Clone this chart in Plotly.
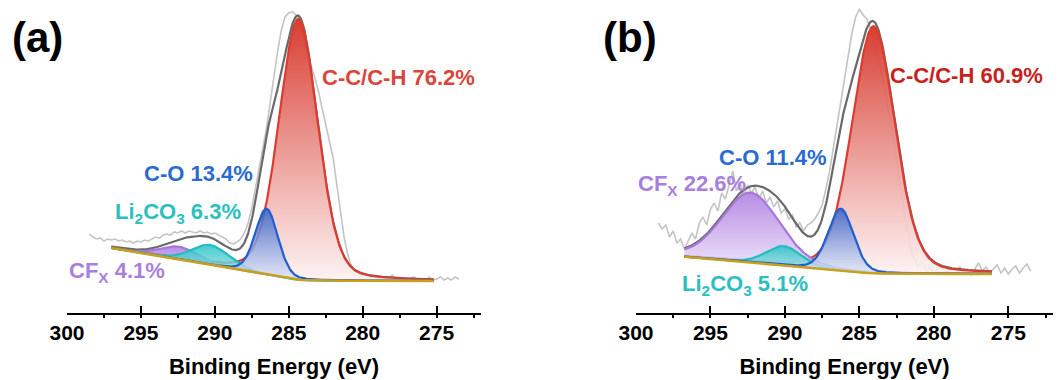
import numpy as np
import plotly.graph_objects as go

# ---------------- data ----------------
xticks = [300, 295, 290, 285, 280, 275]
raw_step = 0.25
raw_a_start = 298.5
raw_a = [79, 76, 74, 75, 72, 74, 73, 74, 72, 73, 71, 72, 70, 72, 71, 73, 72, 74, 76, 75,
         78, 79, 78, 81, 80, 82, 80, 82, 81, 80, 82, 80, 81, 79, 80, 78, 76, 74, 70, 69,
         71, 74, 80, 90, 105, 124, 146, 165, 186, 212, 238, 262, 283, 296, 300, 301, 298, 294, 278, 262,
         248, 236, 222, 205, 188, 172, 155, 128, 100, 75, 58, 46, 41, 39, 37, 36, 35, 37, 35, 34,
         33, 35, 38, 34, 33, 34, 33, 35, 36, 33, 34, 33, 36, 33, 34, 36, 33, 35, 33, 36, 34]
raw_b_start = 298.5
raw_b = [90, 84, 88, 76, 82, 70, 74, 64, 72, 80, 74, 90, 96, 88, 104, 110, 102, 120, 114, 128,
         142, 122, 130, 118, 128, 120, 126, 114, 122, 110, 116, 106, 112, 100, 104, 94, 98, 86, 90, 82,
         88, 90, 94, 100, 108, 124, 142, 165, 188, 210, 236, 260, 280, 296, 304, 298, 294, 284, 270, 255,
         240, 220, 200, 178, 152, 126, 102, 82, 60, 52, 46, 50, 42, 46, 40, 44, 48, 41, 45, 39,
         43, 46, 40, 44, 38, 44, 50, 42, 46, 40, 44, 48, 40, 45, 39, 44, 47, 40, 45, 49, 42]

peak_names = ["C-C/C-H", "C-O", "Li2CO3", "CFx"]
center_a = [284.35, 286.5, 290.3, 292.4]
height_a = [261, 66, 20, 13]
fwhm_a = [3.1, 1.8, 3.0, 3.0]
center_b = [284.05, 286.25, 290.1, 292.3]
height_b = [247, 62, 19.5, 70]
fwhm_b = [3.4, 2.0, 2.8, 4.6]
lorentz_frac = 0.2

base_a_ev = [297.0, 289.66, 284.5, 283.0, 275.2]
base_a = [65, 46.3, 33.2, 32.4, 32]
base_b_ev = [296.75, 289.0, 284.3, 282.5, 276.1]
base_b = [56.3, 46.0, 39.8, 39.3, 39.0]

pct_a = [76.2, 13.4, 6.3, 4.1]
pct_b = [60.9, 11.4, 5.1, 22.6]

# ---------------- styles ----------------
FONT = "Liberation Sans, Arial, sans-serif"
line_col = ["#de3b30", "#1f5fcf", "#22bcc2", "#a577db"]
fill_top = ["rgba(214,52,40,0.95)", "rgba(50,95,200,0.85)", "rgba(40,195,198,0.85)", "rgba(170,120,222,0.85)"]
fill_bot = ["rgba(253,242,242,0.9)", "rgba(225,232,248,0.8)", "rgba(175,232,232,0.8)", "rgba(236,226,249,0.8)"]
label_col_a = ["#d9463b", "#2a6bd1", "#2bbfc2", "#a97fdc"]
label_col_b = ["#c8221c", "#2a6bd1", "#2bbfc2", "#a97fdc"]


def pv(x, c, h, w, m):
    g = np.exp(-4 * np.log(2) * (x - c) ** 2 / w ** 2)
    l = 1.0 / (1 + 4 * (x - c) ** 2 / w ** 2)
    return h * ((1 - m) * g + m * l)


fig = go.Figure()


def panel(xa, ya, raw_start, raw, centers, heights, fwhms, bev, bval):
    rx = raw_start - raw_step * np.arange(len(raw))
    grid = np.linspace(bev[0], bev[-1], 500)
    base = np.interp(grid[::-1], bev[::-1], bval[::-1])[::-1]
    comps = [pv(grid, c, h, w, lorentz_frac) for c, h, w in zip(centers, heights, fwhms)]
    env = base + np.sum(comps, axis=0)
    kw = dict(xaxis=xa, yaxis=ya, showlegend=False, hoverinfo="skip")
    fig.add_trace(go.Scatter(x=rx, y=raw, mode="lines", line=dict(color="#c4c4c4", width=1.6), **kw))
    fig.add_trace(go.Scatter(x=grid, y=env, mode="lines", line=dict(color="#6a6a6a", width=2.2), **kw))
    for i in [0, 3, 2, 1]:
        yc = base + comps[i]
        fig.add_trace(go.Scatter(
            x=np.concatenate([grid, grid[::-1]]), y=np.concatenate([yc, base[::-1]]),
            mode="lines", fill="toself", line=dict(width=0),
            fillgradient=dict(type="vertical", colorscale=[[0, fill_bot[i]], [1, fill_top[i]]]), **kw))
        fig.add_trace(go.Scatter(x=grid, y=yc, mode="lines", line=dict(color=line_col[i], width=2.2), **kw))
    fig.add_trace(go.Scatter(x=grid, y=base, mode="lines", line=dict(color="#c9a01c", width=2.6), **kw))


panel("x", "y", raw_a_start, raw_a, center_a, height_a, fwhm_a, base_a_ev, base_a)
panel("x2", "y2", raw_b_start, raw_b, center_b, height_b, fwhm_b, base_b_ev, base_b)

xax = dict(range=[300, 272], tickmode="array", tickvals=xticks, ticktext=[str(t) for t in xticks],
           ticks="inside", ticklen=7, tickwidth=2, tickcolor="black", automargin=False,
           showline=True, linecolor="black", linewidth=2, showgrid=False, zeroline=False,
           minor=dict(dtick=2.5, tick0=300, ticks="outside", ticklen=3, tickwidth=2, tickcolor="black"),
           tickfont=dict(family=FONT, size=21, color="black", weight="bold"),
           ticklabelstandoff=0,
           title=dict(text="Binding Energy (eV)", font=dict(family=FONT, size=22, color="black", weight="bold"),
                      standoff=15))
yax = dict(visible=False, range=[0, 310], domain=[67 / 380, 377 / 380], fixedrange=True, automargin=False)

fig.update_layout(
    template="none",
    width=1064, height=380, autosize=False,
    margin=dict(l=0, r=0, t=0, b=0, pad=0),
    paper_bgcolor="white", plot_bgcolor="white",
    xaxis=dict(xax, domain=[67 / 1064, 481 / 1064], anchor="y"),
    xaxis2=dict(xax, domain=[636 / 1064, 1053 / 1064], anchor="y2"),
    yaxis=dict(yax, anchor="x"),
    yaxis2=dict(yax, anchor="x2"),
)

anns = []
lab_a = [(282.9, 236), (294.93, 140), (296.89, 100), (299.99, 41)]
lab_b = [(283.09, 238), (294.56, 156), (297.05, 28), (299.99, 128)]
texts_a = ["C-C/C-H %.1f%%" % pct_a[0], "C-O %.1f%%" % pct_a[1],
           "Li<sub>2</sub>CO<sub>3</sub> %.1f%%" % pct_a[2], "CF<sub>X</sub> %.1f%%" % pct_a[3]]
texts_b = ["C-C/C-H %.1f%%" % pct_b[0], "C-O %.1f%%" % pct_b[1],
           "Li<sub>2</sub>CO<sub>3</sub> %.1f%%" % pct_b[2], "CF<sub>X</sub> %.1f%%" % pct_b[3]]
for (xx, yy), t, c in zip(lab_a, texts_a, label_col_a):
    anns.append(dict(x=xx, y=yy, xref="x", yref="y", text="<b>%s</b>" % t, showarrow=False,
                     xanchor="left", yanchor="middle", font=dict(family=FONT, size=22, color=c)))
for (xx, yy), t, c in zip(lab_b, texts_b, label_col_b):
    anns.append(dict(x=xx, y=yy, xref="x2", yref="y2", text="<b>%s</b>" % t, showarrow=False,
                     xanchor="left", yanchor="middle", font=dict(family=FONT, size=22, color=c)))
anns.append(dict(x=37 / 1064, y=1 - 38 / 380, xref="paper", yref="paper", text="<b>(a)</b>", showarrow=False,
                 xanchor="center", yanchor="middle", font=dict(family=FONT, size=42, color="black")))
anns.append(dict(x=630 / 1064, y=1 - 38 / 380, xref="paper", yref="paper", text="<b>(b)</b>", showarrow=False,
                 xanchor="center", yanchor="middle", font=dict(family=FONT, size=42, color="black")))
fig.update_layout(annotations=anns)

fig.write_html("out.html", config={"displayModeBar": False},
               post_script="document.body.style.margin='0px';")
